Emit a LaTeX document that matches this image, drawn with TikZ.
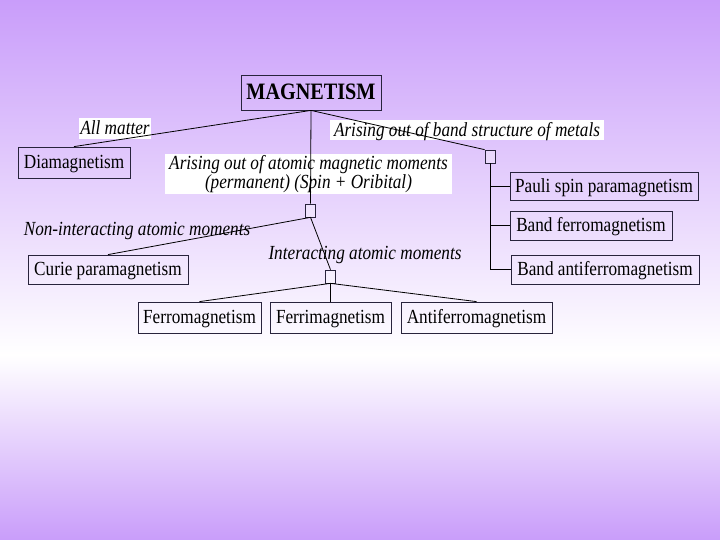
\documentclass[tikz,border=0pt]{standalone}
\usepackage{fontspec}
\setmainfont{Liberation Serif}[FakeStretch=0.86]
\definecolor{bgpurple}{RGB}{201,157,250}
\definecolor{boxline}{RGB}{40,35,60}
\begin{document}
\begin{tikzpicture}[x=1pt,y=-1pt,
  box/.style={draw=boxline,line width=0.8pt,rectangle,inner sep=0pt,text height=13.5pt,text depth=1pt,font=\fontsize{20}{19}\selectfont},
  sq/.style={draw=boxline,line width=0.7pt,rectangle,inner sep=0pt,minimum width=10pt,minimum height=13pt,fill=white,fill opacity=0.3,text opacity=1},
  lbl/.style={fill=white,inner sep=1pt,text height=14pt,text depth=1pt,font=\fontsize{20}{19}\selectfont\itshape},
  conn/.style={black,line width=0.8pt}]
\useasboundingbox (0,0) rectangle (720,540);
\shade[top color=bgpurple,bottom color=white] (0,0) rectangle (720,355);
\shade[top color=white,bottom color=bgpurple] (0,355) rectangle (720,540);
% boxes
\node[box,minimum width=140pt,minimum height=35pt,text height=16pt,font=\fontsize{23.5}{24}\selectfont\bfseries] (mag) at (311,92.5) {MAGNETISM};
\node[box,minimum width=112pt,minimum height=31pt] (dia) at (74,162.5) {Diamagnetism};
\node[box,minimum width=188pt,minimum height=28pt] (pauli) at (604,186) {Pauli spin paramagnetism};
\node[box,minimum width=162pt,minimum height=29pt] (bferro) at (591,225.5) {Band ferromagnetism};
\node[box,minimum width=188pt,minimum height=29pt] (bafm) at (605,269.5) {Band antiferromagnetism};
\node[box,minimum width=160pt,minimum height=29pt] (curie) at (108,269.5) {Curie paramagnetism};
\node[box,minimum width=123pt,minimum height=31pt] (ferro) at (199.5,317.5) {Ferromagnetism};
\node[box,minimum width=121pt,minimum height=31pt] (ferri) at (330.5,317.5) {Ferrimagnetism};
\node[box,minimum width=151pt,minimum height=31pt] (afm) at (476.5,317.5) {Antiferromagnetism};
% labels
\node[lbl,minimum width=70pt,minimum height=21pt] (lall) at (115,128.5) {All matter};
\node[lbl,minimum width=274pt,minimum height=20pt] (lband) at (467,130) {Arising out of band structure of metals};
\node[lbl,minimum width=287pt,minimum height=40pt,inner sep=0pt,text height=,text depth=,align=center,yshift=-1pt] (latom) at (308.5,173) {Arising out of atomic magnetic moments\\(permanent) (Spin + Oribital)};
\node[lbl,fill=none] (lnon) at (137,229) {Non-interacting atomic moments};
\node[lbl,fill=none] (lint) at (365,253) {Interacting atomic moments};
% junction squares
\node[sq] (sq1) at (310.5,210.5) {};
\node[sq] (sq2) at (490,156.5) {};
\node[sq] (sq3) at (330.5,276.5) {};
% connectors
\draw[conn] (mag.south) -- (dia.north);
\draw[conn] (mag.south) -- (sq1.north);
\draw[conn] (mag.south) -- (sq2.north west);
\draw[conn] (sq2.south) |- (pauli.west);
\draw[conn] (sq2.south) |- (bferro.west);
\draw[conn] (sq2.south) |- (bafm.west);
\draw[conn] (sq1.south) -- (curie.north);
\draw[conn] (sq1.south) -- (sq3.north);
\draw[conn] (sq3.south) -- (ferro.north);
\draw[conn] (sq3.south) -- (ferri.north);
\draw[conn] (sq3.south) -- (afm.north);
\end{tikzpicture}
\end{document}
